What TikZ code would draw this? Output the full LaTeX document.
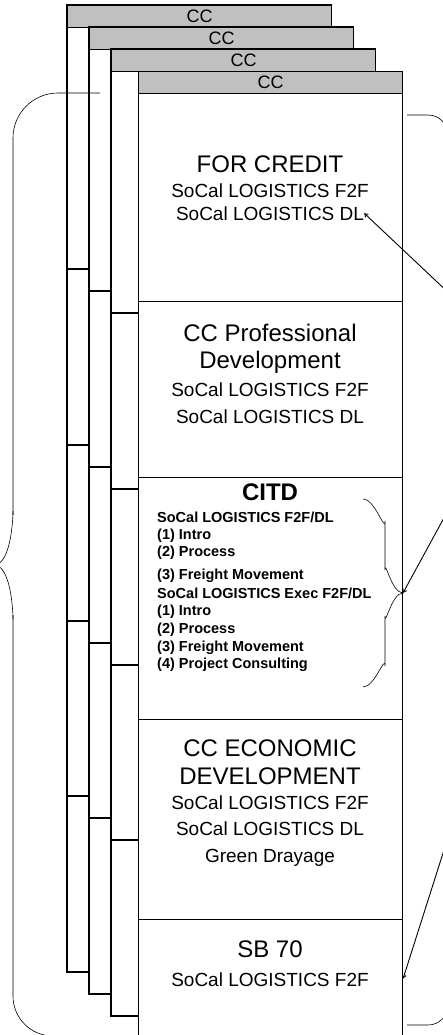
\documentclass[tikz,border=0pt]{standalone}
\usepackage{fontspec}
\setmainfont{Liberation Sans}
\usetikzlibrary{arrows.meta}
\definecolor{tabgray}{RGB}{192,192,192}

\begin{document}
\begin{tikzpicture}[
        x=1pt, y=-1pt,
        >={Straight Barb[length=3pt,width=4pt]},
        % Styles
        page/.style={% For the pages behind
            draw,
            fill=white,
            line width=1.1pt,
            },
        tab/.style={% For the grey CC tabs
            rectangle,
            draw,
            fill=tabgray,
            line width=1.1pt,
            anchor=north west,
            minimum width=264pt,
            minimum height=22pt,
            inner sep=0pt,
            font=\fontsize{18}{18}\selectfont,
            },
        section/.style={% For the boxes of the front page
            rectangle,
            draw,
            fill=white,
            line width=1.1pt,
            anchor=north west,
            minimum width=264pt,
            inner sep=0pt,
            },
        title/.style={% Big titles
            anchor=base,
            inner sep=0pt,
            font=\fontsize{24}{24}\selectfont,
            },
        sub/.style={% Program lines
            anchor=base,
            inner sep=0pt,
            font=\fontsize{19}{19}\selectfont,
            },
        item/.style={% Small bold lines in CITD
            anchor=base west,
            inner sep=0pt,
            font=\fontsize{14.5}{14.5}\selectfont\bfseries,
            },
        brace/.style={% Curly braces
            line width=0.6pt,
            },
        ArrowC1/.style={% Pointer lines
            ->,
            line width=0.9pt,
            },
        ]

    \useasboundingbox (0,0) rectangle (443,1035);
    \clip (0,0) rectangle (443,1035);

    % Pages behind, named tab#
        \foreach \d/\px [count=\i] in {0/67, 22/89, 44/111} {
            \draw [page] (\px,5+\d) rectangle (\px+264,972+\d);
            \foreach \y in {269,445,621,796}
                \draw [page] (\px,\y+\d) -- (\px+264,\y+\d);
            \node [tab] (tab\i) at (\px,5+\d) {CC};
        }

    % Front page
        \node [tab] (tab4) at (138,71) {CC};
        \node [section, minimum height=208pt] (credit) at (138,93) {};
        \node [section, minimum height=176pt] (profdev) at (138,301) {};
        \node [section, minimum height=242pt] (citd) at (138,477) {};
        \node [section, minimum height=200pt] (econdev) at (138,719) {};
        \node [section, minimum height=118pt] (sb70) at (138,919) {};

    % Texts
        \node [title] (credittitle) at (270,172) {FOR CREDIT};
        \node [sub] (creditf2f) at (270,197) {SoCal LOGISTICS F2F};
        \node [sub] (creditdl) at (270,220) {SoCal LOGISTICS DL};

        \node [title] (proftitle) at (270,341) {CC Professional};
        \node [title] (proftitle2) at (270,368) {Development};
        \node [sub] (proff2f) at (270,396) {SoCal LOGISTICS F2F};
        \node [sub] (profdl) at (270,423) {SoCal LOGISTICS DL};

        \node [title, font=\fontsize{24}{24}\selectfont\bfseries] (citdtitle) at (270,500) {CITD};
        \node [item] (citd1) at (157,522) {SoCal LOGISTICS F2F/DL};
        \node [item] (citd2) at (157,539) {(1) Intro};
        \node [item] (citd3) at (157,556) {(2) Process};
        \node [item] (citd4) at (157,579) {(3) Freight Movement};
        \node [item] (citd5) at (157,598) {SoCal LOGISTICS Exec F2F/DL};
        \node [item] (citd6) at (157,615.5) {(1) Intro};
        \node [item] (citd7) at (157,633) {(2) Process};
        \node [item] (citd8) at (157,651) {(3) Freight Movement};
        \node [item] (citd9) at (157,668) {(4) Project Consulting};

        \node [title] (econtitle) at (270,756) {CC ECONOMIC};
        \node [title] (econtitle2) at (270,784.5) {DEVELOPMENT};
        \node [sub] (econf2f) at (270,809.5) {SoCal LOGISTICS F2F};
        \node [sub] (econdl) at (270,835) {SoCal LOGISTICS DL};
        \node [sub] (econgreen) at (270,862) {Green Drayage};

        \node [title] (sbtitle) at (270,957.5) {SB 70};
        \node [sub] (sbf2f) at (270,986.5) {SoCal LOGISTICS F2F};

    % Braces
        \coordinate (citdtip) at (403,593);
        \draw [brace] (363,499) to[out=0,in=-90] (385,521) -- (385,570)
            to[out=90,in=180] (citdtip) to[out=180,in=-90] (385,616)
            -- (385,666) to[out=90,in=0] (363,687);

        \draw [brace, rounded corners=45pt] (100,93) -| (13,515);
        \draw [brace] (13,515) to[out=90,in=0] (-6,565) to[out=0,in=-90] (13,615);
        \draw [brace, rounded corners=40pt] (13,615) |- (100,1036);

        \draw [brace, rounded corners=20pt] (407,115) -| (448,570) |- (407,1025);

    % Pointers from the right
        \coordinate (srcA) at (470,313);
        \coordinate (srcB) at (463,483);
        \coordinate (srcC) at (451,828);
        \draw [ArrowC1] (srcA) -- (creditdl.east);
        \draw [ArrowC1] (srcB) -- (citdtip);
        \draw [ArrowC1] (srcC) -- (sb70.east);

\end{tikzpicture}
\end{document}
